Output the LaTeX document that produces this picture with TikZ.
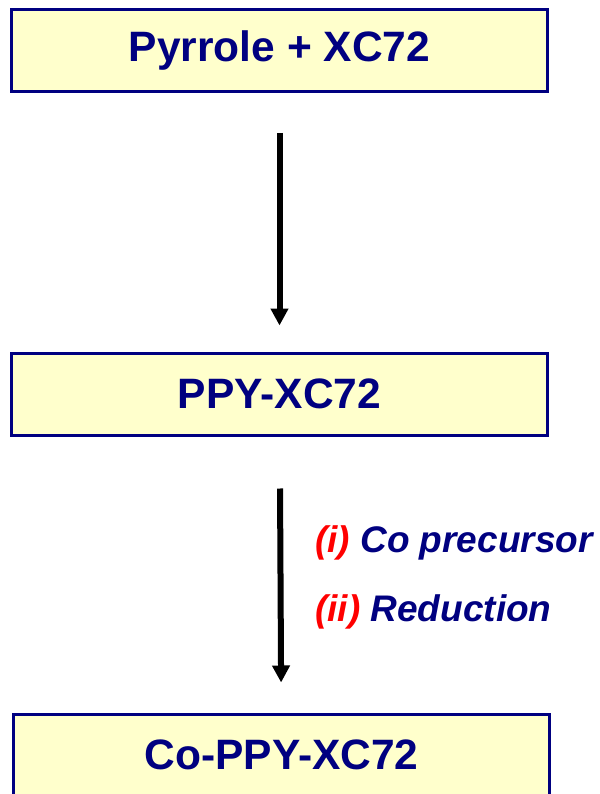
\documentclass[tikz,border=0pt]{standalone}
\usepackage{fontspec}
\setmainfont{Liberation Sans}
\usetikzlibrary{arrows.meta,positioning}
\definecolor{navy}{RGB}{0,0,128}
\definecolor{paleyellow}{RGB}{255,255,204}
\DeclareRobustCommand{\StepNo}[1]{\textcolor{red}{(#1)}}

\begin{document}
\begin{tikzpicture}[
    x=1pt, y=-1pt,
    stage/.style={
      draw=navy,
      line width=3pt,
      fill=paleyellow,
      minimum width=536pt,
      minimum height=82pt,
      inner sep=0pt,
      text=navy,
      font=\fontsize{42.5}{50}\selectfont\bfseries,
    },
    cond/.style={
      anchor=base west,
      inner sep=0pt,
      text=navy,
      font=\fontsize{37}{44}\selectfont\bfseries\itshape,
    },
    arrow/.style={
      -{Triangle[length=17pt,width=17pt]},
      line width=6pt,
      draw=black,
    },
  ]
    \useasboundingbox (0,0) rectangle (599,794);
    \node[stage] (pyrrole) at (279.5,50.5) {Pyrrole + XC72};
    \node[stage] (ppy) at (279.5,394) {PPY-XC72};
    \node[stage] (coppy) at (281.5,755) {Co-PPY-XC72};
    \node[cond] (precursor) at (315,552) {\StepNo{i} Co precursor};
    \node[cond] (reduction) at (315,621) {\StepNo{ii} Reduction};
    \draw[arrow, shorten <=40pt, shorten >=26pt, xshift=1.5pt] (pyrrole) -- (ppy);
    \draw[arrow, shorten <=52pt, shorten >=30pt, xshift=-0.5pt] (ppy) -- (coppy);
  \end{tikzpicture}
\end{document}
